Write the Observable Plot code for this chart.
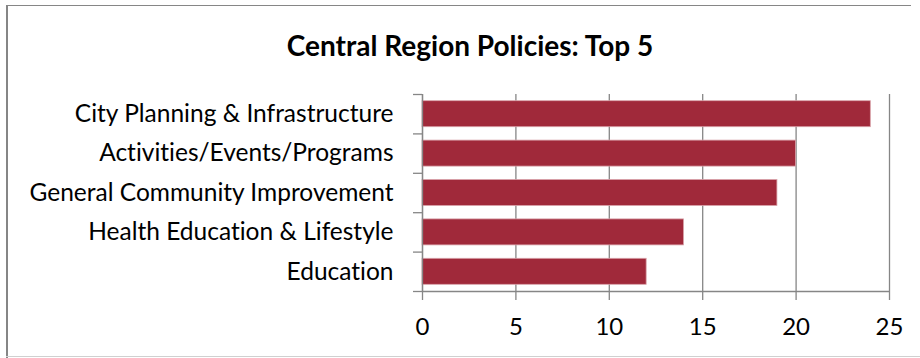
<!DOCTYPE html>
<html>
<head>
<meta charset="utf-8">
<script src="https://cdn.jsdelivr.net/npm/d3@7"></script>
<script src="https://cdn.jsdelivr.net/npm/@observablehq/plot@0.6"></script>
<style>
  html, body { margin: 0; padding: 0; background: #fff; }
  #wrap { position: relative; width: 920px; height: 358px; overflow: hidden; font-family: Lato, "Open Sans", sans-serif; font-variant-ligatures: none; }
  svg text { font-variant-ligatures: none; }
  #title { position: absolute; left: 20px; width: 900px; top: 0; height: 70px; text-align: center;
           font-weight: bold; font-size: 28px; line-height: 90px; color: #000; }
  #chart { position: absolute; left: 0; top: 70px; }
  .bl { position: absolute; left: 6px; top: 5px; width: 2px; height: 353px; background: #868686; }
  .bt { position: absolute; left: 6px; top: 5px; width: 905px; height: 1px; background: #868686; }
  .bb { position: absolute; left: 6px; top: 356px; width: 914px; height: 1px; background: #d0d0d0; }
</style>
</head>
<body>
<div id="wrap">
  <div class="bl"></div><div class="bt"></div><div class="bb"></div>
  <div id="chart"></div>
  <div id="title">Central Region Policies: Top 5</div>
</div>
<script>
const titleText = "Central Region Policies: Top 5";
const categories = ["City Planning & Infrastructure", "Activities/Events/Programs", "General Community Improvement", "Health Education & Lifestyle", "Education"];
const values = [24, 20, 19, 14, 12];
const xTicks = [0, 5, 10, 15, 20, 25];

document.getElementById("title").textContent = titleText;
const data = categories.map((c, i) => ({category: c, value: values[i], i}));
const boundaries = d3.range(0, categories.length + 1);
const centers = categories.map((c, i) => i + 0.5);

const gray = "#868686";
const plot = Plot.plot({
  width: 920,
  height: 288,
  marginLeft: 422,
  marginRight: 31,
  marginTop: 24,
  marginBottom: 67,
  style: {fontFamily: "Lato, 'Open Sans', sans-serif", background: "transparent", color: "#000", overflow: "visible"},
  x: {domain: [0, 25]},
  y: {domain: [0, categories.length], range: [24, 221]},
  marks: [
    Plot.gridX(xTicks, {stroke: gray, strokeOpacity: 1, strokeWidth: 1.3}),
    Plot.rectX(data, {x1: 0, x2: "value", y1: d => d.i + 0.17, y2: d => d.i + 0.83, fill: "#A0293A", stroke: "#d9a3aa", strokeWidth: 0.8}),
    Plot.ruleY([categories.length], {stroke: gray, strokeWidth: 1.3}),
    Plot.ruleX([0], {stroke: gray, strokeWidth: 1.3}),
    Plot.axisX({ticks: xTicks, tickSize: 9, tickPadding: 17, stroke: gray, strokeWidth: 1.3, fontSize: 24, label: null, tickFormat: d => String(d), color: "#000"}),
    Plot.axisY({ticks: boundaries, tickSize: 9, stroke: gray, strokeWidth: 1.3, tickFormat: () => "", label: null}),
    Plot.axisY({ticks: centers, tickSize: 0, tickPadding: 29, fontSize: 24.5, label: null, tickFormat: v => categories[Math.floor(v)]})
  ]
});
document.getElementById("chart").appendChild(plot);
</script>
</body>
</html>
